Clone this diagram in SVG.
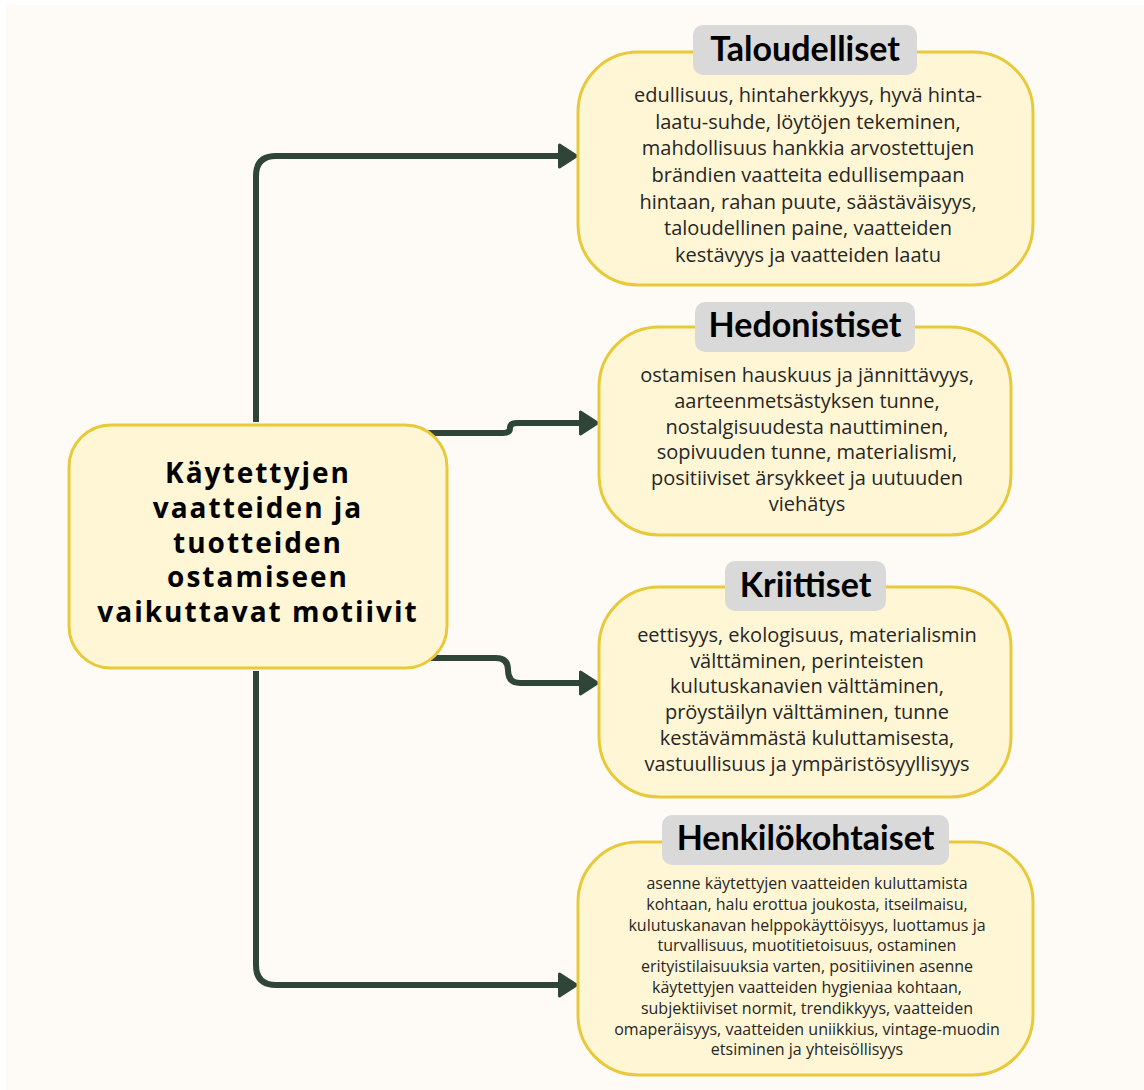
<svg xmlns="http://www.w3.org/2000/svg" width="1144" height="1090" viewBox="0 0 1144 1090">
  <defs>
    <style>
      .box { fill: #FFF6D5; stroke: #E8C93A; stroke-width: 3; }
      .pill { fill: #D9D9D9; }
      .pilltxt { font-family: Lato, "Liberation Sans", sans-serif; font-weight: 700; font-size: 34px; fill: #000; text-anchor: middle; }
      .body { font-family: "Open Sans", "Liberation Sans", sans-serif; font-size: 20px; fill: #262626; text-anchor: middle; }
      .bodysm { font-family: "Open Sans", "Liberation Sans", sans-serif; font-size: 16px; fill: #262626; text-anchor: middle; }
      .main { font-family: "Open Sans", "DejaVu Sans", sans-serif; font-weight: 700; font-size: 28px; letter-spacing: 2px; fill: #000; text-anchor: middle; }
      .conn { fill: none; stroke: #2F4538; stroke-width: 6; stroke-linejoin: round; }
    </style>
    <marker id="arrow" markerUnits="userSpaceOnUse" markerWidth="30" markerHeight="32" viewBox="-4 -16 30 32" refX="3.5" refY="0" orient="auto">
      <path d="M0,-11 L17,0 L0,11 Z" fill="#2F4538" stroke="#2F4538" stroke-width="3" stroke-linejoin="round"/>
    </marker>
  </defs>

  <rect x="0" y="0" width="1144" height="1090" fill="#FFFFFF"/>
  <rect x="6" y="5" width="1138" height="1085" fill="#FEFAF6"/>

  <g id="connectors">
    <path class="conn" d="M256,422 V176 Q256,156 276,156 H563" marker-end="url(#arrow)"/>
    <path class="conn" d="M422,433 H503 Q510,433 510,428 Q510,423 517,423 H584" marker-end="url(#arrow)"/>
    <path class="conn" d="M422,658 H496 Q508,658 508,670 Q508,683 520,683 H584" marker-end="url(#arrow)"/>
    <path class="conn" d="M256,671 V965 Q256,985 276,985 H563" marker-end="url(#arrow)"/>
  </g>

  <g id="node-main">
    <rect class="box" x="69" y="425" width="378" height="243" rx="42"/>
    <text class="main" x="258" y="483">Käytettyjen</text>
    <text class="main" x="258" y="517.5">vaatteiden ja</text>
    <text class="main" x="258" y="552.5">tuotteiden</text>
    <text class="main" x="258" y="587">ostamiseen</text>
    <text class="main" x="258" y="622">vaikuttavat motiivit</text>
  </g>

  <g id="node-taloudelliset">
    <rect class="box" x="578" y="52" width="455" height="233" rx="60"/>
    <rect class="pill" x="693" y="25" width="224" height="50" rx="10"/>
    <text class="pilltxt" x="805" y="61">Taloudelliset</text>
    <text class="body" x="808" y="102">edullisuus, hintaherkkyys, hyvä hinta-</text>
    <text class="body" x="808" y="128.7">laatu-suhde, löytöjen tekeminen,</text>
    <text class="body" x="808" y="155.3">mahdollisuus hankkia arvostettujen</text>
    <text class="body" x="808" y="182">brändien vaatteita edullisempaan</text>
    <text class="body" x="808" y="208.7">hintaan, rahan puute, säästäväisyys,</text>
    <text class="body" x="808" y="235.3">taloudellinen paine, vaatteiden</text>
    <text class="body" x="808" y="262">kestävyys ja vaatteiden laatu</text>
  </g>

  <g id="node-hedonistiset">
    <rect class="box" x="599" y="327" width="412" height="208" rx="60"/>
    <rect class="pill" x="695" y="302" width="220" height="50" rx="10"/>
    <text class="pilltxt" x="805" y="337">Hedonistiset</text>
    <text class="body" x="807" y="382">ostamisen hauskuus ja jännittävyys,</text>
    <text class="body" x="807" y="407.8">aarteenmetsästyksen tunne,</text>
    <text class="body" x="807" y="433.6">nostalgisuudesta nauttiminen,</text>
    <text class="body" x="807" y="459.4">sopivuuden tunne, materialismi,</text>
    <text class="body" x="807" y="485.2">positiiviset ärsykkeet ja uutuuden</text>
    <text class="body" x="807" y="511">viehätys</text>
  </g>

  <g id="node-kriittiset">
    <rect class="box" x="599" y="587" width="412" height="210" rx="60"/>
    <rect class="pill" x="725" y="561" width="161" height="50" rx="10"/>
    <text class="pilltxt" x="805.5" y="597">Kriittiset</text>
    <text class="body" x="807" y="642">eettisyys, ekologisuus, materialismin</text>
    <text class="body" x="807" y="667.7">välttäminen, perinteisten</text>
    <text class="body" x="807" y="693.4">kulutuskanavien välttäminen,</text>
    <text class="body" x="807" y="719.1">pröystäilyn välttäminen, tunne</text>
    <text class="body" x="807" y="744.8">kestävämmästä kuluttamisesta,</text>
    <text class="body" x="807" y="770.5">vastuullisuus ja ympäristösyyllisyys</text>
  </g>

  <g id="node-henkilokohtaiset">
    <rect class="box" x="578" y="842" width="455" height="233" rx="60"/>
    <rect class="pill" x="662" y="815" width="287" height="50" rx="10"/>
    <text class="pilltxt" x="805.5" y="850">Henkilökohtaiset</text>
    <text class="bodysm" x="807" y="889">asenne käytettyjen vaatteiden kuluttamista</text>
    <text class="bodysm" x="807" y="909.8">kohtaan, halu erottua joukosta, itseilmaisu,</text>
    <text class="bodysm" x="807" y="930.6">kulutuskanavan helppokäyttöisyys, luottamus ja</text>
    <text class="bodysm" x="807" y="951.4">turvallisuus, muotitietoisuus, ostaminen</text>
    <text class="bodysm" x="807" y="972.2">erityistilaisuuksia varten, positiivinen asenne</text>
    <text class="bodysm" x="807" y="993">käytettyjen vaatteiden hygieniaa kohtaan,</text>
    <text class="bodysm" x="807" y="1013.8">subjektiiviset normit, trendikkyys, vaatteiden</text>
    <text class="bodysm" x="807" y="1034.6">omaperäisyys, vaatteiden uniikkius, vintage-muodin</text>
    <text class="bodysm" x="807" y="1055.4">etsiminen ja yhteisöllisyys</text>
  </g>
</svg>
